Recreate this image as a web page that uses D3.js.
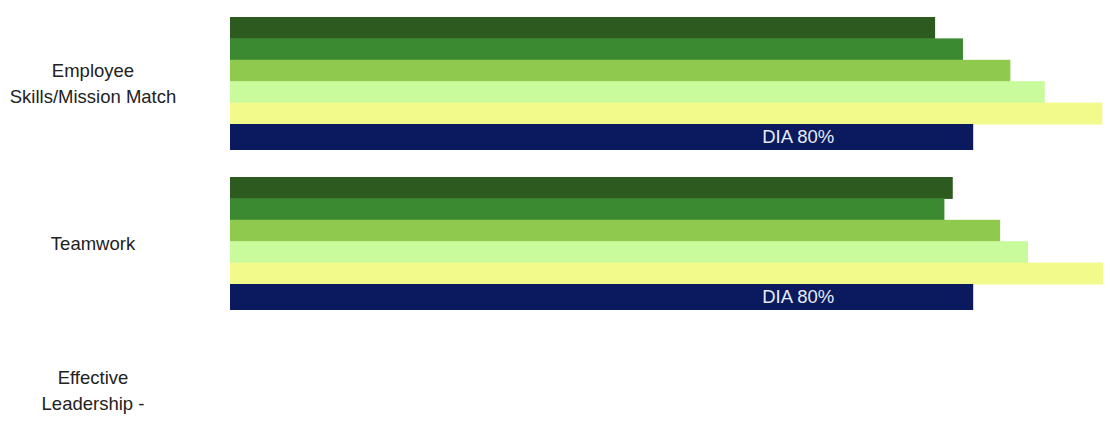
<!DOCTYPE html>
<html>
<head>
<meta charset="utf-8">
<script src="https://cdn.jsdelivr.net/npm/d3@7"></script>
<style>
  body { margin: 0; background: #fff; }
  text { font-family: "Liberation Sans", Arial, sans-serif; }
</style>
</head>
<body>
<div id="chart"></div>
<script>
let size = {width: 1111, height: 427};

// categories, one label line per entry (third label runs past the bottom edge)
const categories = ['skills', 'teamwork', 'leadership'];
const categoryLabels = [
  ['Employee', 'Skills/Mission Match'],
  ['Teamwork'],
  ['Effective', 'Leadership -', '']
];

// green/yellow series, percent, per category
const seriesNames = ['s1', 's2', 's3', 's4', 's5'];
const seriesColors = ['#2c5a1f', '#3b8a31', '#8fca4e', '#c9fa9b', '#f1fa8a'];
const seriesValues = [
  [75.9, 77.8, null],
  [78.9, 76.9, null],
  [84.0, 82.9, null],
  [87.7, 85.9, null],
  [93.9, 94.0, null]
];

// DIA benchmark
const diaValues = [80, 80, null];
const diaLabel = 'DIA 80%';

function drawChart(el){
  let svg = d3.select(el).append('svg')
    .attr('width', size.width)
    .attr('height', size.height);

  let x = d3.scaleLinear().domain([0, 100]).range([230, 1159]);

  // groups: 133px tall, 160px apart
  let y = d3.scaleBand()
    .domain(categories)
    .range([17, 17 + 2 * 160 + 133])
    .paddingInner(27 / 160)
    .paddingOuter(0);

  // 5 coloured bars share the top part of a group, the DIA bar sits under them
  let diaH = 26;
  let inner = d3.scaleBand()
    .domain(seriesNames)
    .range([0, y.bandwidth() - diaH]);

  seriesNames.forEach(function(s, i){
    svg.append('g').selectAll('rect')
      .data(categories.map((c, j) => ({c: c, v: seriesValues[i][j]})).filter(d => d.v != null))
      .enter()
      .append('rect')
      .attr('x', x(0))
      .attr('y', d => y(d.c) + inner(s))
      .attr('width', d => x(d.v) - x(0))
      .attr('height', inner.bandwidth() + 0.5)
      .attr('fill', seriesColors[i]);
  });

  let dia = categories.map((c, j) => ({c: c, v: diaValues[j]})).filter(d => d.v != null);

  svg.append('g').selectAll('rect')
    .data(dia)
    .enter()
    .append('rect')
    .attr('x', x(0))
    .attr('y', d => y(d.c) + y.bandwidth() - diaH)
    .attr('width', d => x(d.v) - x(0))
    .attr('height', diaH)
    .attr('fill', '#0b1a5e');

  svg.append('g').selectAll('text')
    .data(dia)
    .enter()
    .append('text')
    .attr('x', d => x(d.v) - 175)
    .attr('y', d => y(d.c) + y.bandwidth() - diaH / 2)
    .attr('dy', '0.35em')
    .attr('text-anchor', 'middle')
    .attr('fill', '#e6ecf6')
    .style('font-size', '18.5px')
    .text(diaLabel);

  // category labels, centred on their group
  let lineH = 26;
  categories.forEach(function(c, i){
    let lines = categoryLabels[i];
    let mid = y(c) + y.bandwidth() / 2;
    let top = mid - (lines.length - 1) * lineH / 2;
    svg.append('text')
      .attr('text-anchor', 'middle')
      .attr('fill', '#222')
      .style('font-size', '18.5px')
      .selectAll('tspan')
      .data(lines)
      .enter()
      .append('tspan')
      .attr('x', 93)
      .attr('y', (d, k) => top + k * lineH)
      .attr('dy', '0.35em')
      .text(d => d);
  });
}

drawChart(document.getElementById('chart'));
</script>
</body>
</html>
